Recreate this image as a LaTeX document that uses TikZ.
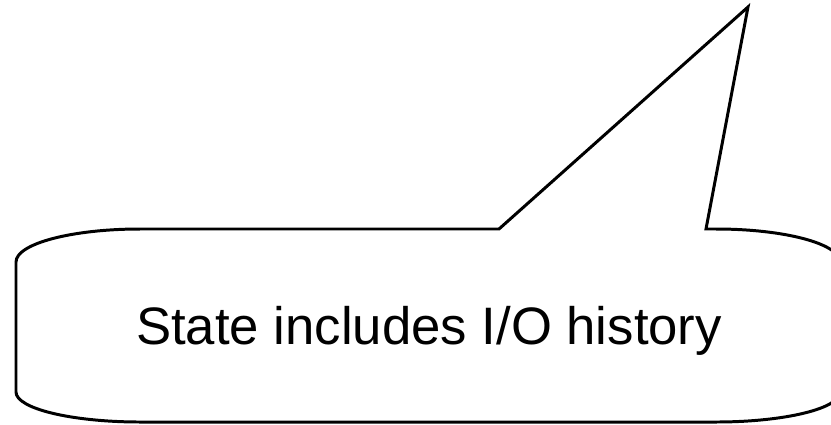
\documentclass[tikz,border=0pt]{standalone}
\usepackage{fontspec}
\setmainfont{Liberation Sans}
\usepackage{tikz}
\usetikzlibrary{positioning,calc}
\tikzset{
  % callout outline
  bubble/.style={draw=black, line width=1.7pt, line join=miter, fill=white},
  % callout text
  bubbletext/.style={font=\fontsize{30}{36}\selectfont, inner sep=0pt, anchor=base},
}

\begin{document}
\begin{tikzpicture}[x=0.02cm, y=0.02cm]
  % frame of the picture
  \useasboundingbox (0,0) rectangle (831,424);
  \clip (0,0) rectangle (831,424);
  % callout with its pointer
  \draw[bubble] (499,195) -- (748,417) -- (706,195) -- (716,195)
    arc[start angle=90, end angle=0, x radius=124, y radius=33] -- (840,32)
    arc[start angle=0, end angle=-90, x radius=124, y radius=30] -- (140,2)
    arc[start angle=270, end angle=180, x radius=124, y radius=30] -- (16,162)
    arc[start angle=180, end angle=90, x radius=124, y radius=33] -- cycle;
  % text
  \node[bubbletext] (note) at (429,80) {State includes I/O history};
\end{tikzpicture}
\end{document}
